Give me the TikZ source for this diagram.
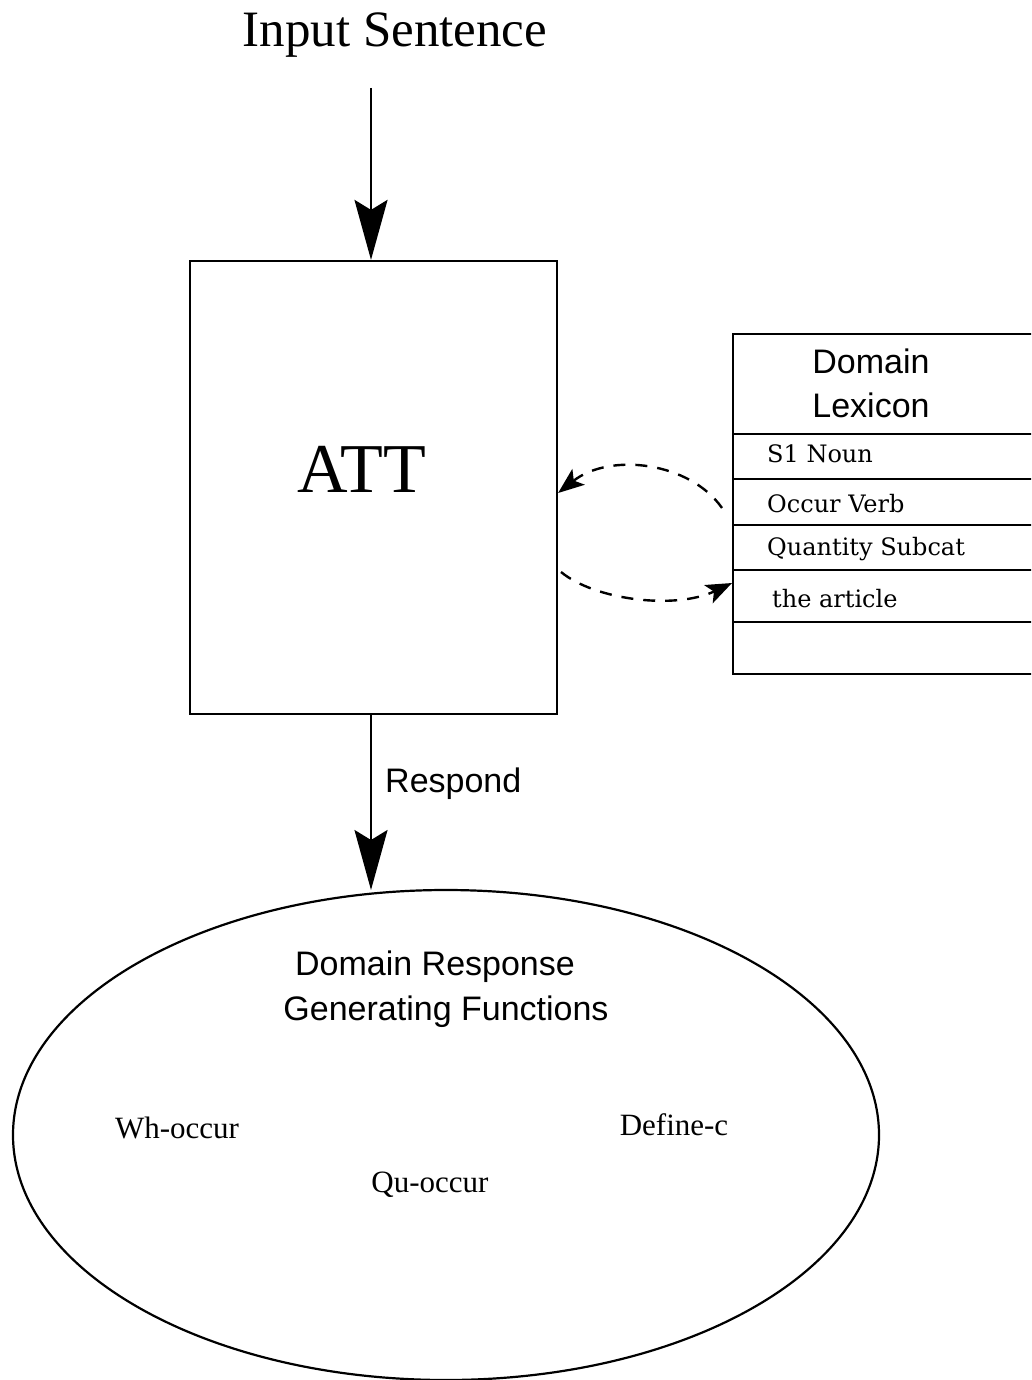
\documentclass[tikz,border=0pt]{standalone}
\usepackage{fontspec}
\setmainfont{Liberation Serif}
\newfontfamily\lexsans{Liberation Sans}
\newfontfamily\rowserif{DejaVu Serif}
\usetikzlibrary{arrows.meta,shapes.geometric}
\begin{document}
\begin{tikzpicture}[x=1pt,y=-1pt,
  every node/.style={inner sep=0pt},
  bigarrow/.style={line width=2.4pt,-{Stealth[length=60pt,width=33pt,inset=10pt]}},
  dasharrow/.style={line width=2.4pt,dash pattern=on 12pt off 10pt,-{Stealth[length=26pt,width=20pt,inset=6pt]}},
  box/.style={draw,line width=2.2pt,rectangle,inner sep=0pt},
  rowtext/.style={anchor=base west,font=\rowserif\fontsize{24}{27}\selectfont},
  fnlabel/.style={anchor=base,font=\fontsize{31}{34}\selectfont}]
\useasboundingbox (0,0) rectangle (1031,1380);
\clip (0,0) rectangle (1031,1380);

% title
\node[anchor=base,font=\fontsize{51}{55}\selectfont] (input) at (395,47) {Input Sentence};

% ATT box
\node[box,minimum width=367pt,minimum height=453pt] (att) at (373.5,487.5) {};
\node[anchor=base,font=\fontsize{70}{74}\selectfont] (attlabel) at (362,492) {ATT};

% Domain lexicon
\node[box,minimum width=320pt,minimum height=340pt,anchor=north west] (lex) at (732,333) {};
\foreach \yy in {434,479,525,570,622} \draw[line width=2.2pt] (732,\yy) -- (1045,\yy);
\node[anchor=base,font=\lexsans\fontsize{34}{38}\selectfont] (lexa) at (871,373) {Domain};
\node[anchor=base,font=\lexsans\fontsize{34}{38}\selectfont] (lexb) at (871,417) {Lexicon};
\node[rowtext] (r1) at (767,462) {S1 Noun};
\node[rowtext] (r2) at (767,512) {Occur Verb};
\node[rowtext] (r3) at (767,555) {Quantity Subcat};
\node[rowtext] (r4) at (772,607) {the article};

% response ellipse
\node[draw,ellipse,line width=2.2pt,minimum width=866pt,minimum height=490pt,inner sep=0pt] (resp) at (446,1135) {};
\node[anchor=base,font=\lexsans\fontsize{34}{38}\selectfont] (rt1) at (435,975) {Domain Response};
\node[anchor=base,font=\lexsans\fontsize{34}{38}\selectfont] (rt2) at (446,1020) {Generating Functions};
\node[fnlabel] (f1) at (177,1138) {Wh-occur};
\node[fnlabel] (f2) at (674,1135) {Define-c};
\node[fnlabel] (f3) at (430,1192) {Qu-occur};

% connectors
\coordinate (instart) at (371,88);
\draw[bigarrow] (instart) -- (instart |- att.north);
\draw[bigarrow] (instart |- att.south) -- (371,890);
\node[anchor=base west,font=\lexsans\fontsize{34}{38}\selectfont] (resplabel) at (385,792) {Respond};

\coordinate (d1s) at (722,508);
\coordinate (d2s) at (561,572);
\draw[dasharrow] (d1s) .. controls (690,462) and (610,452) .. (att.east |- 0,493);
\draw[dasharrow] (d2s) .. controls (595,600) and (675,610) .. (lex.west |- 0,583);
\end{tikzpicture}
\end{document}
